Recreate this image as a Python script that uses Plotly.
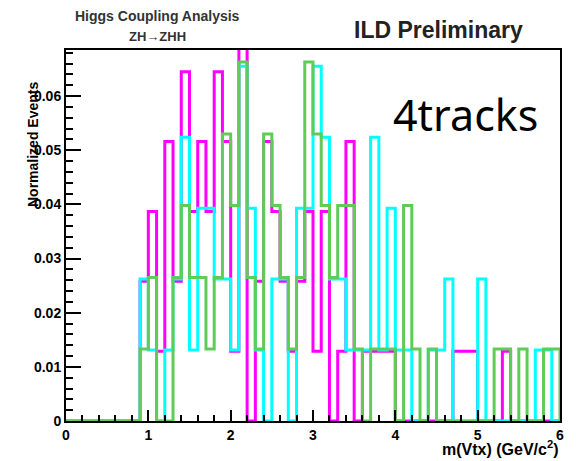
import plotly.graph_objects as go

# Histogram binning: 60 bins of width 0.1 GeV/c^2 from 0 to 6
bin_edges = [round(0.1 * i, 1) for i in range(61)]

# Normalized contents per bin
magenta_vals = [0, 0, 0, 0, 0, 0, 0, 0, 0, 0.0258,
                0.0387, 0.0129, 0.0516, 0.0258, 0.0645, 0.0387, 0.0516, 0.0387, 0.0645, 0.0516,
                0.0129, 0.0774, 0, 0.0258, 0.0516, 0.0387, 0.0258, 0.0129, 0.0258, 0.0387,
                0.0129, 0.0387, 0, 0.0129, 0.0516, 0, 0.0129, 0.0129, 0.0129, 0.0129,
                0, 0, 0, 0, 0, 0, 0, 0.0129, 0.0129, 0.0129,
                0, 0, 0, 0.0129, 0, 0, 0, 0, 0, 0]

cyan_vals = [0, 0, 0, 0, 0, 0, 0, 0, 0, 0.0262,
             0.0131, 0, 0.0131, 0.0262, 0.0524, 0.0131, 0.0393, 0.0393, 0.0262, 0.0262,
             0.0131, 0.0655, 0.0393, 0.0131, 0, 0.0262, 0.0262, 0, 0.0393, 0.0393,
             0.0655, 0.0524, 0.0262, 0.0262, 0.0131, 0.0131, 0.0131, 0.0524, 0.0131, 0.0393,
             0.0131, 0.0131, 0, 0, 0.0131, 0.0131, 0.0262, 0, 0, 0,
             0.0262, 0, 0, 0, 0, 0, 0, 0.0131, 0.0131, 0]

green_vals = [0, 0, 0, 0, 0, 0, 0, 0, 0, 0.0133,
              0.0265, 0, 0, 0.0265, 0.0398, 0.0265, 0.0265, 0.0133, 0.0265, 0.0530,
              0.0398, 0.0663, 0.0265, 0.0133, 0.0530, 0.0398, 0.0265, 0.0133, 0.0265, 0.0663,
              0.0530, 0.0398, 0.0265, 0.0398, 0.0398, 0.0133, 0, 0.0133, 0.0133, 0.0133,
              0, 0.0398, 0.0133, 0, 0.0133, 0, 0, 0, 0, 0,
              0, 0, 0.0133, 0.0133, 0, 0.0133, 0, 0, 0.0133, 0.0133]

x_tick_vals = [0, 1, 2, 3, 4, 5, 6]
y_tick_vals = [0, 0.01, 0.02, 0.03, 0.04, 0.05, 0.06]
y_tick_text = ["0", "0.01", "0.02", "0.03", "0.04", "0.05", "0.06"]

series = [
    ("magenta", magenta_vals, "#ff00ff"),
    ("cyan", cyan_vals, "#00ffff"),
    ("green", green_vals, "#60cc58"),
]

fig = go.Figure()
for name, vals, color in series:
    xs = bin_edges + [bin_edges[-1]]
    ys = list(vals) + [vals[-1], 0]
    fig.add_trace(go.Scatter(
        x=xs, y=ys, mode="lines", line=dict(shape="hv", color=color, width=3),
        name=name, showlegend=False, hoverinfo="skip"))

FONT = "Liberation Sans"
fig.update_layout(
    width=576, height=461,
    margin=dict(l=66, r=14, t=50, b=40),
    paper_bgcolor="white", plot_bgcolor="white",
    showlegend=False,
)
fig.update_xaxes(
    range=[0, 6], tickmode="array", tickvals=x_tick_vals,
    ticks="inside", ticklen=11, tickwidth=2, tickcolor="black",
    showline=True, linewidth=2, linecolor="black", mirror=True,
    showgrid=False, zeroline=False,
    minor=dict(ticks="inside", dtick=0.2, tick0=0, ticklen=6, tickwidth=1.5,
               tickcolor="black", showgrid=False),
    tickfont=dict(family=FONT, size=14, color="black", weight="bold"),
)
fig.update_yaxes(
    range=[0, 0.0685], tickmode="array", tickvals=y_tick_vals, ticktext=y_tick_text,
    ticks="inside", ticklen=15, tickwidth=2, tickcolor="black",
    showline=True, linewidth=2, linecolor="black", mirror=True,
    showgrid=False, zeroline=False,
    minor=dict(ticks="inside", dtick=0.002, tick0=0, ticklen=7, tickwidth=1.5,
               tickcolor="black", showgrid=False),
    tickfont=dict(family=FONT, size=14, color="black", weight="bold"),
)

annotations = [
    dict(text="Higgs Coupling Analysis", x=0.186, y=1.092, xref="paper", yref="paper",
         showarrow=False, xanchor="center", yanchor="middle",
         font=dict(family=FONT, size=14, color="#333333", weight="bold")),
    dict(text="ZH→ZHH", x=0.186, y=1.036, xref="paper", yref="paper",
         showarrow=False, xanchor="center", yanchor="middle",
         font=dict(family=FONT, size=13, color="#333333", weight="bold")),
    dict(text="ILD Preliminary", x=0.754, y=1.055, xref="paper", yref="paper",
         showarrow=False, xanchor="center", yanchor="middle",
         font=dict(family=FONT, size=23, color="#222222", weight="bold")),
    dict(text="4tracks", x=0.808, y=0.825, xref="paper", yref="paper",
         showarrow=False, xanchor="center", yanchor="middle",
         font=dict(family="Noto Sans", size=43, color="black")),
    dict(text="Normalized Events", x=-0.068, y=0.745, xref="paper", yref="paper",
         showarrow=False, xanchor="center", yanchor="middle", textangle=-90,
         font=dict(family=FONT, size=14, color="black", weight="bold")),
    dict(text="m(Vtx) (GeV/c<sup>2</sup>)", x=1.0, y=-0.074, xref="paper", yref="paper",
         showarrow=False, xanchor="right", yanchor="middle",
         font=dict(family=FONT, size=16, color="black", weight="bold")),
]
fig.update_layout(annotations=annotations)

fig.write_html("out.html", config={"displayModeBar": False},
               post_script="document.body.style.margin='0';")
